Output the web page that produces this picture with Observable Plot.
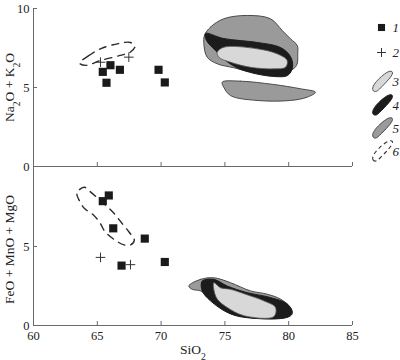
<!DOCTYPE html>
<html><head><meta charset="utf-8">
<script src="https://cdn.jsdelivr.net/npm/d3@7"></script>
<script src="https://cdn.jsdelivr.net/npm/@observablehq/plot@0.6"></script>
<style>body{margin:0;background:#fff;} #chart{width:400px;}</style>
</head><body><div id="chart"></div>
<script>
// ---- tick values and labels ----
const xTicks = [60, 65, 70, 75, 80, 85];
const yTicksTop = [0, 5, 10];
const yTicksBottom = [0, 5];
const legendLabels = ["1", "2", "3", "4", "5", "6"];
const xLabel = "SiO₂";
const yLabelTop = "Na₂O + K₂O";
const yLabelBottom = "FeO + MnO + MgO";

// ---- group 1 (squares): [SiO2, value] ----
const squaresTop = [[65.43, 5.99], [66.03, 6.41], [66.77, 6.12], [65.72, 5.30], [69.8, 6.12], [70.29, 5.32]];
const squaresBottom = [[65.9, 8.23], [65.43, 7.87], [66.25, 6.15], [68.72, 5.5], [66.9, 3.79], [70.29, 4.02]];
// ---- group 2 (plus) ----
const plusTop = [[65.25, 6.6], [67.47, 6.92]];
const plusBottom = [[65.25, 4.31], [67.6, 3.85]];

// ---- field outlines (SiO2, value) ----
const field5TopA = [[73.4, 8.3], [73.87, 8.82], [74.91, 9.35], [76.75, 9.56], [78.57, 9.35], [79.49, 8.61], [80.14, 8.08], [80.67, 7.66], [80.71, 7.13], [80.61, 6.39], [79.9, 6.0], [77.0, 6.0], [75.7, 6.25], [74.4, 6.5], [73.61, 6.92], [73.35, 7.77]];
const field4Top = [[73.48, 8.42], [74.89, 8.1], [77.55, 7.85], [79.36, 7.53], [80.14, 6.96], [80.3, 6.27], [79.91, 5.76], [78.81, 5.7], [77.01, 5.95], [75.91, 6.27], [75.05, 6.71], [74.26, 7.34], [73.56, 7.97]];
const field3Top = [[74.4, 7.23], [74.91, 7.55], [77.53, 7.45], [79.1, 7.13], [79.88, 6.71], [79.75, 6.28], [78.83, 6.18], [77.01, 6.28], [75.44, 6.6], [74.52, 6.92]];
const field5TopB = [[74.79, 5.34], [76.22, 5.4], [78.83, 5.19], [80.92, 4.92], [82.1, 4.7], [81.45, 4.39], [80.14, 4.18], [77.53, 4.18], [75.44, 4.49], [74.91, 5.02]];
const field6Top = [[63.6, 6.55], [64.3, 7.0], [65.25, 7.45], [66.66, 7.78], [67.6, 7.85], [67.95, 7.6], [67.6, 7.25], [66.8, 7.03], [65.25, 6.71], [64.1, 6.4]];

const field5Bottom = [[72.17, 2.5], [73.09, 2.92], [74.13, 3.02], [75.44, 2.71], [77.01, 2.19], [78.32, 1.98], [79.36, 1.67], [80.14, 1.14], [80.27, 0.73], [79.88, 0.52], [76.75, 0.52], [75.18, 0.94], [73.87, 1.77], [73.09, 2.19], [72.44, 2.29]];
const field4Bottom = [[73.22, 2.81], [74.13, 2.92], [75.18, 2.5], [76.75, 2.08], [78.57, 1.77], [79.88, 1.36], [80.27, 0.83], [79.88, 0.52], [76.48, 0.52], [75.18, 0.83], [73.87, 1.56], [73.22, 2.19]];
const field3Bottom = [[74.13, 2.71], [74.66, 2.39], [75.44, 2.29], [76.75, 1.94], [78.05, 1.56], [78.97, 1.14], [78.83, 0.56], [76.48, 0.625], [75.18, 1.14], [74.4, 1.67], [74.13, 2.29]];
const field6Bottom = [[63.4, 8.3], [63.6, 8.6], [64.0, 8.75], [64.4, 8.5], [65.4, 7.8], [66.3, 7.1], [66.9, 6.5], [67.5, 5.9], [67.9, 5.4], [67.6, 5.1], [67.1, 5.1], [66.4, 5.4], [65.6, 5.95], [65.2, 6.5], [64.7, 7.0], [64.0, 7.4], [63.6, 7.9]];

// ---- styling ----
const font = "'Liberation Serif', 'Times New Roman', serif";
const axisColor = "#6a6a6a";
const textColor = "#222";
const c3 = "#d8d8d8", c4 = "#1c1c1c", c5 = "#9a9a9a";
const xy = {x: d => d[0], y: d => d[1], curve: "catmull-rom-closed"};
const pt = {x: d => d[0], y: d => d[1]};

// tilted bean-shaped legend symbol
const blob = {draw(ctx) {
  ctx.moveTo(-9, 10);
  ctx.bezierCurveTo(-12, 7, -7, 0, 2, -7);
  ctx.bezierCurveTo(6, -10, 10, -11, 10, -8);
  ctx.bezierCurveTo(10, -5, 3, 2, -3, 8);
  ctx.bezierCurveTo(-5, 10, -7, 11.5, -9, 10);
  ctx.closePath();
}};

function fieldMarks(f5, f4, f3, f6) {
  return [
    Plot.line(f5, {...xy, fill: c5, stroke: "#4a4a4a", strokeWidth: 1}),
    Plot.line(f4, {...xy, fill: c4, stroke: c4, strokeWidth: 1}),
    Plot.line(f3, {...xy, fill: c3, stroke: "#555", strokeWidth: 0.8}),
    Plot.line(f6, {...xy, stroke: "#2a2a2a", strokeWidth: 1.4, strokeDasharray: "7,6"})
  ];
}
function frameMarks(yt) {
  return [
    Plot.ruleX([60], {stroke: axisColor}),
    Plot.ruleY([0], {stroke: axisColor}),
    Plot.ruleX(xTicks.slice(1), {stroke: axisColor, insetTop: 154}),
    Plot.ruleY(yt, {stroke: axisColor, insetRight: 315})
  ];
}

const legendDy = [19, 44, 72.5, 96, 119, 142];
const legendMarks = [
  Plot.dot([0], {frameAnchor: "top-right", dx: 29, dy: legendDy[0], symbol: "square", r: 4, fill: "#1a1a1a"}),
  Plot.dot([0], {frameAnchor: "top-right", dx: 29, dy: legendDy[1], symbol: "plus", r: 3, stroke: "#333", strokeWidth: 1}),
  Plot.dot([0], {frameAnchor: "top-right", dx: 30, dy: legendDy[2], symbol: blob, fill: c3, stroke: "#555", strokeWidth: 1}),
  Plot.dot([0], {frameAnchor: "top-right", dx: 30, dy: legendDy[3], symbol: blob, fill: c4, stroke: c4, strokeWidth: 1}),
  Plot.dot([0], {frameAnchor: "top-right", dx: 30, dy: legendDy[4], symbol: blob, fill: c5, stroke: "#4a4a4a", strokeWidth: 1}),
  Plot.dot([0], {frameAnchor: "top-right", dx: 30, dy: legendDy[5], symbol: blob, fill: "none", stroke: "#333", strokeWidth: 1.1, strokeDasharray: "4,3"}),
  ...legendLabels.map((l, i) => Plot.text([l], {frameAnchor: "top-right", dx: 40, dy: legendDy[i] + (i > 1 ? 1 : 0), text: d => d, textAnchor: "start", lineAnchor: "middle", fontStyle: "italic", fontSize: 13, fill: textColor}))
];

const svgStyle = {fontFamily: font, fontSize: "12.5px", color: textColor, background: "transparent", overflow: "visible"};

const topPlot = Plot.plot({
  width: 400, height: 167, marginLeft: 33, marginRight: 48, marginTop: 8, marginBottom: 1,
  x: {domain: [60, 85], axis: null},
  y: {domain: [0, 10]},
  style: svgStyle,
  marks: [
    ...fieldMarks(field5TopA, field4Top, field3Top, field6Top),
    Plot.line(field5TopB, {...xy, fill: c5, stroke: "#4a4a4a", strokeWidth: 1}),
    Plot.dot(squaresTop, {...pt, symbol: "square", r: 4.6, fill: "#1a1a1a"}),
    Plot.dot(plusTop, {...pt, symbol: "plus", r: 3.2, stroke: "#333", strokeWidth: 1}),
    ...frameMarks([5, 10]),
    Plot.axisY(yTicksTop, {tickSize: 0, tickPadding: 4, label: null, fontSize: 12.5}),
    Plot.text([yLabelTop], {frameAnchor: "left", dx: -24, rotate: -90, text: d => d, textAnchor: "middle", lineAnchor: "middle", fontSize: 13.5, fill: textColor}),
    ...legendMarks
  ]
});

const bottomPlot = Plot.plot({
  width: 400, height: 193, marginLeft: 33, marginRight: 48, marginTop: 0, marginBottom: 35,
  x: {domain: [60, 85]},
  y: {domain: [0, 10]},
  style: svgStyle,
  marks: [
    ...fieldMarks(field5Bottom, field4Bottom, field3Bottom, field6Bottom),
    Plot.dot(squaresBottom, {...pt, symbol: "square", r: 4.6, fill: "#1a1a1a"}),
    Plot.dot(plusBottom, {...pt, symbol: "plus", r: 3.2, stroke: "#333", strokeWidth: 1}),
    ...frameMarks([5]),
    Plot.axisX(xTicks, {tickSize: 0, tickPadding: 6, label: null, fontSize: 12.5}),
    Plot.axisY(yTicksBottom, {tickSize: 0, tickPadding: 4, label: null, fontSize: 12.5}),
    Plot.text([yLabelBottom], {frameAnchor: "left", dx: -24, dy: 3, rotate: -90, text: d => d, textAnchor: "middle", lineAnchor: "middle", fontSize: 13.5, fill: textColor}),
    Plot.text([xLabel], {frameAnchor: "bottom", dy: 24, text: d => d, lineAnchor: "middle", fontSize: 13.5, fill: textColor})
  ]
});

// render subscript digits as lowered smaller tspans
function subscripts(svg) {
  d3.select(svg).selectAll("text").each(function() {
    const t = this.textContent;
    if (!t.includes("₂")) return;
    const parts = t.split("₂");
    this.textContent = "";
    parts.forEach((p, i) => {
      if (p) d3.select(this).append("tspan").text(p);
      if (i < parts.length - 1) d3.select(this).append("tspan").attr("baseline-shift", "sub").attr("font-size", "72%").text("2");
    });
  });
}
subscripts(topPlot); subscripts(bottomPlot);
document.getElementById("chart").append(topPlot, bottomPlot);
</script>
</body></html>
